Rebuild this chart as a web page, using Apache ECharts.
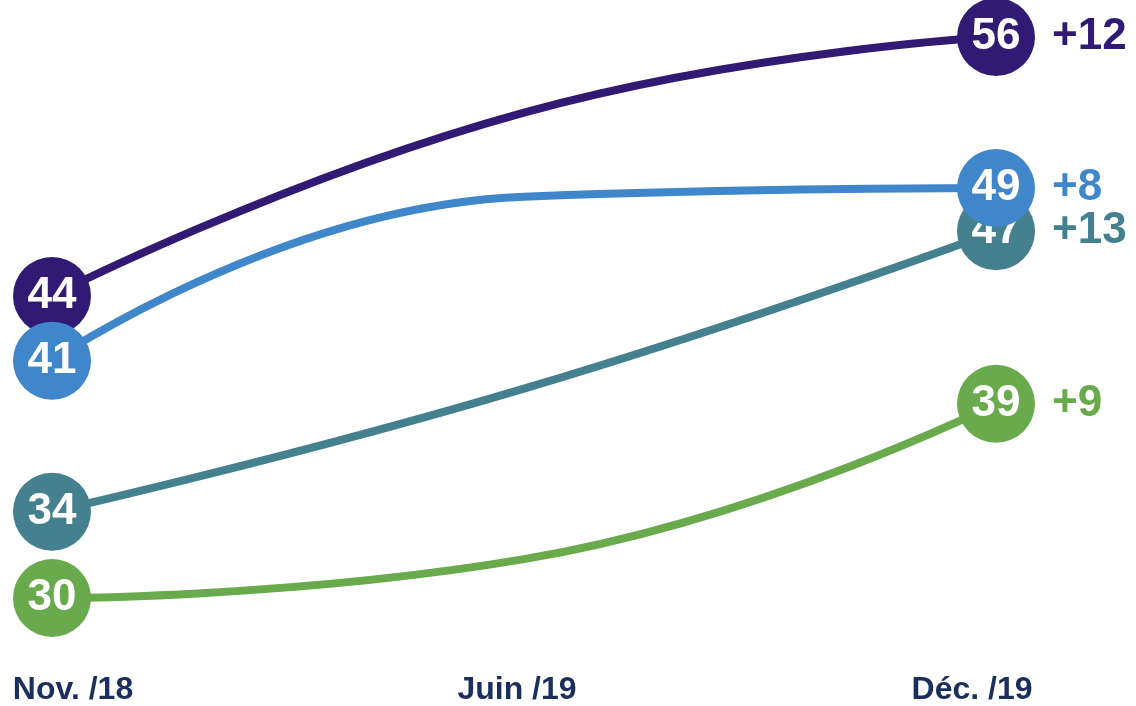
<!DOCTYPE html>
<html>
<head>
<meta charset="utf-8">
<script src="https://cdn.jsdelivr.net/npm/echarts@6/dist/echarts.min.js"></script>
<style>html,body{margin:0;padding:0;background:#fff}#c{width:1136px;height:706px}</style>
</head>
<body>
<div id="c"></div>
<script>
var categories = ['Nov. /18', 'Juin /19', 'Déc. /19'];
var seriesPurple = [44, 52.5, 56];
var seriesTeal = [34, 39.7, 47];
var seriesBlue = [41, 48.6, 49];
var seriesGreen = [30, 31.8, 39];

var colors = { purple: '#311a74', teal: '#44808e', blue: '#3f86ca', green: '#69aa4d' };

function mk(name, data, color, z) {
  var delta = data[data.length - 1] - data[0];
  return {
    name: name, type: 'line', data: data, smooth: 0.5, z: z,
    symbol: 'circle',
    symbolSize: function (v, p) { return p.dataIndex === 1 ? 0 : 78; },
    showSymbol: true,
    lineStyle: { width: 8, color: color },
    itemStyle: { color: color },
    label: {
      show: true, position: 'inside', color: '#fff',
      fontFamily: 'Liberation Sans, Arial, sans-serif', fontWeight: 'bold', fontSize: 44,
      formatter: function (p) { return p.dataIndex === 1 ? '' : String(p.value); }
    },
    endLabel: {
      show: true, color: color, distance: 56,
      fontFamily: 'Liberation Sans, Arial, sans-serif', fontWeight: 'bold', fontSize: 44,
      formatter: function () { return (delta >= 0 ? '+' : '') + delta; }
    },
    emphasis: { disabled: true },
    animation: false
  };
}

var chart = echarts.init(document.getElementById('c'), null, { renderer: 'canvas' });
chart.setOption({
  animation: false,
  grid: { left: 52, right: 140, top: 37, bottom: 104, containLabel: false },
  xAxis: {
    type: 'category', data: categories, boundaryGap: false,
    axisLine: { show: false }, axisTick: { show: false }, splitLine: { show: false },
    axisLabel: {
      margin: 76, interval: 0,
      formatter: function (v, i) { return '{' + ['n', 'j', 'd'][i] + '|' + v + '}'; },
      rich: {
        n: { color: '#1b2e5c', fontFamily: 'Liberation Sans Narrow, Arial Narrow, sans-serif', fontWeight: 'bold', fontSize: 32, padding: [0, 0, 0, 42] },
        j: { color: '#1b2e5c', fontFamily: 'Liberation Sans Narrow, Arial Narrow, sans-serif', fontWeight: 'bold', fontSize: 32, padding: [0, 14, 0, 0] },
        d: { color: '#1b2e5c', fontFamily: 'Liberation Sans Narrow, Arial Narrow, sans-serif', fontWeight: 'bold', fontSize: 32, padding: [0, 48, 0, 0] }
      }
    }
  },
  yAxis: {
    type: 'value', min: 30, max: 56, show: false, splitLine: { show: false }
  },
  series: [
    mk('purple', seriesPurple, colors.purple, 4),
    mk('teal', seriesTeal, colors.teal, 5),
    mk('blue', seriesBlue, colors.blue, 6),
    mk('green', seriesGreen, colors.green, 7)
  ]
});
</script>
</body>
</html>
